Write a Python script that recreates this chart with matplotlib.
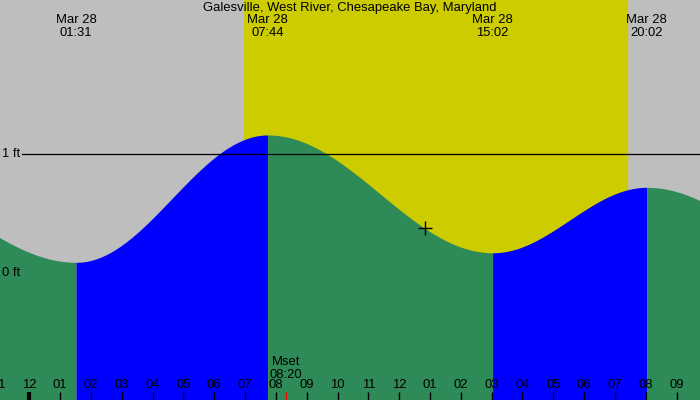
import matplotlib
matplotlib.use("Agg")
from matplotlib import pyplot as plt
import matplotlib.transforms as mtransforms
import numpy as np

plt.rcParams['font.family'] = ['Liberation Sans', 'DejaVu Sans']

# tide extremes, hours from midnight Mar 28 (feet)
extreme_hours = [-5.5, 1.517, 7.733, 15.033, 20.033, 26.5]
extreme_heights = [0.84, 0.09, 1.16, 0.17, 0.72, 0.05]
# labelled extremes inside the view
label_hours = [1.517, 7.733, 15.033, 20.033]
label_times = ["01:31", "07:44", "15:02", "20:02"]
label_date = "Mar 28"

sunrise, sunset = 6.967, 19.383
moonset, moonset_label = 8.333, "08:20"
now_hour = 12.84

tick_hours = list(range(-1, 22))
title = "Galesville, West River, Chesapeake Bay, Maryland"

x0, x1 = -0.951, 21.762
y0, y1 = -1.067, 2.294

fig = plt.figure(figsize=(7, 4), dpi=100)
ax = fig.add_axes([0, 0, 1, 1])
ax.set_xlim(x0, x1)
ax.set_ylim(y0, y1)
ax.axis('off')
ax.add_patch(plt.Rectangle((0, 0), 1, 1, transform=ax.transAxes, color='#bebebe', zorder=0))

ax.axvspan(sunrise, sunset, color='#cccc00', zorder=1)


def tide(t):
    # cosine shape between successive extremes
    out = np.empty_like(t)
    for i in range(len(extreme_hours) - 1):
        ta, tb = extreme_hours[i], extreme_hours[i + 1]
        ha, hb = extreme_heights[i], extreme_heights[i + 1]
        m = (t >= ta) & (t <= tb)
        f = (t[m] - ta) / (tb - ta)
        out[m] = hb + (ha - hb) * (1 + np.cos(np.pi * f)) / 2
    return out


for i in range(len(extreme_hours) - 1):
    ta, tb = extreme_hours[i], extreme_hours[i + 1]
    t = np.linspace(ta, tb, 200)
    rising = extreme_heights[i + 1] > extreme_heights[i]
    ax.fill_between(t, y0, tide(t), color='#0000ff' if rising else '#2e8b57',
                    lw=0, zorder=2)

ax.axhline(1, xmin=22 / 700, xmax=1, color='black', lw=0.9, zorder=3)

trans = mtransforms.blended_transform_factory(ax.transData, ax.transAxes)
ytrans = mtransforms.blended_transform_factory(ax.transAxes, ax.transData)
fs = 9.4

ax.text(2 / 700, 1, "1 ft", transform=ytrans, ha='left', va='center', fontsize=fs, zorder=4)
ax.text(2 / 700, 0, "0 ft", transform=ytrans, ha='left', va='center', fontsize=fs, zorder=4)

ax.text(0.5, 1 - 8 / 400, title, transform=ax.transAxes, ha='center', va='center', fontsize=fs, zorder=4)
for h, lab in zip(label_hours, label_times):
    ax.text(h, 1 - 20 / 400, label_date, transform=trans, ha='center', va='center', fontsize=fs, zorder=4)
    ax.text(h, 1 - 32.5 / 400, lab, transform=trans, ha='center', va='center', fontsize=fs, zorder=4)

for h in tick_hours:
    lab = "%02d" % (((h - 1) % 12) + 1)
    ax.text(h, 1 - 385.5 / 400, lab, transform=trans, ha='center', va='center', fontsize=fs, zorder=4)
    ax.plot([h, h], [0, 8.5 / 400], transform=trans, color='black',
            lw=3 if h % 24 == 0 else 1, solid_capstyle='butt', zorder=4)

ax.text(moonset, 1 - 362 / 400, "Mset", transform=trans, ha='center', va='center', fontsize=fs, zorder=4)
ax.text(moonset, 1 - 374.5 / 400, moonset_label, transform=trans, ha='center', va='center', fontsize=fs, zorder=4)
ax.plot([moonset, moonset], [0, 8.5 / 400], transform=trans, color='red', lw=1,
        solid_capstyle='butt', zorder=4)

ax.plot([now_hour], tide(np.array([now_hour])), marker='+', color='black', ms=10, mew=1, zorder=5)

fig.savefig("out.png", dpi=100)
